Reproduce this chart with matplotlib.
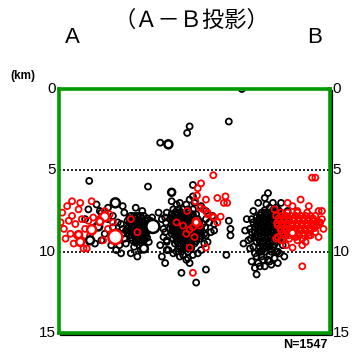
import matplotlib
matplotlib.use("Agg")
import matplotlib.pyplot as plt
import matplotlib.transforms as mtransforms

plt.rcParams['font.family'] = ['Liberation Sans', 'Noto Sans CJK JP', 'DejaVu Sans']

# hypocentres: horizontal distance along A-B (km), depth (km)
blk_x = [
    # cluster around x=2-4
    1.8, 2.3, 2.6, 3.0, 3.3, 2.8, 3.6, 2.2, 2.6, 1.6, 3.9, 4.0, 3.0, 3.3, 2.5, 3.6, 3.9, 3.2, 3.5, 3.8, 4.8, 4.4,
    # cluster around x=5
    4.4, 4.8, 5.2, 4.2, 4.5, 4.9, 5.3, 5.6, 4.3, 4.6, 5.0, 5.4, 4.1, 4.4, 4.8, 5.1, 5.5,
    4.3, 4.6, 5.0, 5.3, 4.5, 4.9, 5.2, 3.8, 3.9, 4.0, 4.7, 5.1, 5.7, 5.9, 4.1, 4.6, 5.0,
    5.5, 3.7, 6.1, 6.3, 6.4, 6.2, 1.85, 5.45,
    4.3, 4.65, 5.05, 5.4, 4.35, 4.7, 5.15, 5.5, 4.2, 4.5, 4.85, 5.2, 4.2, 4.6, 4.95, 5.35,
    4.4, 4.75, 5.1, 5.4, 4.7, 5.05,
    # cluster around x=8
    7.0, 7.6, 8.2, 6.9, 7.3, 7.7, 8.4, 6.8, 7.1, 7.5, 7.9, 8.5, 6.9, 7.2, 7.6, 8.0, 8.4, 8.8,
    6.8, 7.1, 7.5, 7.9, 8.3, 8.7, 6.9, 7.3, 7.7, 8.1, 8.5, 8.9, 7.0, 7.4, 7.8, 8.2, 8.6,
    7.1, 7.5, 7.9, 8.3, 7.3, 7.7, 8.1, 6.5, 6.4, 6.6, 6.6, 7.0, 7.6, 8.5, 9.1, 9.3, 9.2,
    9.0, 8.7, 7.4, 6.9, 8.0, 9.4, 9.5, 9.5, 6.3, 7.9, 10.4, 10.5, 10.5, 8.2, 7.2, 7.8, 8.6,
    7.15, 7.45, 7.95, 7.0, 7.35, 7.75, 8.2, 6.95, 7.35, 7.75, 8.15, 8.6, 7.0, 7.35, 7.8, 8.15, 8.55,
    6.95, 7.3, 7.7, 8.1, 8.5, 7.15, 7.55, 7.95, 8.35, 8.75, 7.2, 7.6, 8.0, 8.4, 7.35, 7.75, 8.1,
    6.6, 6.55, 6.5, 6.6, 6.7, 9.0, 8.95, 9.0, 8.9, 8.7, 7.2, 7.8, 8.3,
    # cluster around x=13
    12.9, 13.3, 12.4, 12.8, 13.2, 13.6, 12.1, 12.5, 12.9, 13.3, 13.7, 11.9, 12.3, 12.7, 13.1, 13.5, 13.9,
    12.0, 12.4, 12.8, 13.2, 13.6, 11.8, 12.2, 12.6, 13.0, 13.4, 13.8, 12.0, 12.4, 12.8, 13.2, 13.6,
    12.1, 12.5, 12.9, 13.3, 12.3, 12.7, 13.1, 11.5, 11.4, 11.6, 11.7, 12.0, 12.4, 12.8, 13.2, 13.5,
    12.2, 12.6, 13.0, 11.9, 12.2, 13.6, 14.0, 11.3, 12.0, 12.8, 12.6, 12.6, 13.0, 12.3, 13.4,
    12.6, 13.1, 13.45, 12.3, 12.65, 13.05, 13.45, 12.2, 12.6, 13.0, 13.4, 13.8, 12.1, 12.5, 12.9, 13.3, 13.7,
    12.2, 12.6, 13.0, 13.4, 13.7, 12.1, 12.5, 12.9, 13.3, 13.65, 12.25, 12.65, 13.05, 13.45,
    12.4, 12.8, 13.2, 12.5, 12.9,
    11.8, 11.7, 11.75, 11.9, 12.1, 12.5, 12.9, 13.3, 13.7, 13.9, 14.0, 13.95, 13.1, 12.7, 12.4,
    11.8, 12.3, 12.9, 13.4, 13.8,
    # isolated events
    11.2, 6.2, 7.85, 8.0, 10.4, 6.5, 7.5, 8.0, 9.0, 8.4, 10.25, 12.1, 8.2,
]
blk_d = [
    7.4, 7.1, 7.6, 8.0, 8.5, 8.9, 8.8, 9.5, 9.3, 8.0, 8.6, 9.2, 7.3, 7.8, 7.5, 8.2, 7.2, 9.6, 9.9, 10.1, 10.3, 10.1,
    7.8, 7.8, 7.8, 8.1, 8.1, 8.1, 8.1, 8.1, 8.4, 8.4, 8.4, 8.4, 8.7, 8.7, 8.7, 8.7, 8.7,
    9.0, 9.0, 9.0, 9.0, 9.3, 9.3, 9.3, 8.3, 8.9, 7.6, 7.3, 7.5, 7.9, 8.6, 9.5, 9.7, 9.9,
    9.4, 9.6, 7.6, 8.0, 9.1, 9.6, 5.65, 6.0,
    7.95, 7.95, 7.95, 7.95, 8.25, 8.25, 8.25, 8.25, 8.55, 8.55, 8.55, 8.55, 8.85, 8.85, 8.85, 8.85,
    9.15, 9.15, 9.15, 9.15, 9.45, 9.45,
    7.4, 7.4, 7.4, 7.7, 7.7, 7.7, 7.7, 8.0, 8.0, 8.0, 8.0, 8.0, 8.3, 8.3, 8.3, 8.3, 8.3, 8.3,
    8.6, 8.6, 8.6, 8.6, 8.6, 8.6, 8.9, 8.9, 8.9, 8.9, 8.9, 8.9, 9.2, 9.2, 9.2, 9.2, 9.2,
    9.5, 9.5, 9.5, 9.5, 9.8, 9.8, 9.8, 7.9, 8.6, 9.3, 9.9, 10.1, 10.2, 10.1, 9.4, 8.8, 8.2,
    7.5, 7.2, 7.0, 6.9, 6.8, 7.8, 8.3, 8.7, 10.3, 10.4, 8.1, 8.6, 9.0, 5.9, 8.0, 8.1, 8.8,
    7.55, 7.55, 7.55, 7.85, 7.85, 7.85, 7.85, 8.15, 8.15, 8.15, 8.15, 8.15, 8.45, 8.45, 8.45, 8.45, 8.45,
    8.75, 8.75, 8.75, 8.75, 8.75, 9.05, 9.05, 9.05, 9.05, 9.05, 9.35, 9.35, 9.35, 9.35, 9.65, 9.65, 9.65,
    7.6, 8.2, 8.8, 9.4, 9.9, 8.0, 8.5, 9.0, 9.5, 9.9, 7.1, 7.1, 7.0,
    7.3, 7.3, 7.6, 7.6, 7.6, 7.6, 7.9, 7.9, 7.9, 7.9, 7.9, 8.2, 8.2, 8.2, 8.2, 8.2, 8.2,
    8.5, 8.5, 8.5, 8.5, 8.5, 8.8, 8.8, 8.8, 8.8, 8.8, 8.8, 9.1, 9.1, 9.1, 9.1, 9.1,
    9.4, 9.4, 9.4, 9.4, 9.7, 9.7, 9.7, 8.0, 8.7, 9.3, 9.8, 10.1, 10.3, 10.5, 10.4, 10.1,
    10.7, 10.9, 10.8, 7.5, 7.0, 7.0, 7.5, 9.5, 11.0, 6.4, 6.7, 10.0, 10.0, 10.0, 10.0,
    7.45, 7.45, 7.45, 7.75, 7.75, 7.75, 7.75, 8.05, 8.05, 8.05, 8.05, 8.05, 8.35, 8.35, 8.35, 8.35, 8.35,
    8.65, 8.65, 8.65, 8.65, 8.65, 8.95, 8.95, 8.95, 8.95, 8.95, 9.25, 9.25, 9.25, 9.25,
    9.55, 9.55, 9.55, 9.85, 9.85,
    8.0, 8.6, 9.2, 9.7, 10.3, 10.5, 10.2, 10.0, 9.6, 9.0, 8.4, 7.9, 7.0, 7.1, 10.0,
    10.6, 10.9, 10.6, 10.7, 10.3,
    0.0, 3.3, 2.7, 2.3, 2.0, 10.7, 11.3, 10.7, 11.1, 11.9, 10.2, 11.4, 6.6,
]

# densest parts of the three black swarms
core_x = [
    4.6, 5.0, 4.35, 4.7, 5.1, 5.45, 4.45, 4.8, 5.2, 4.25, 4.6, 4.95, 5.3, 4.45, 4.8, 5.15, 4.7, 5.05,
    7.3, 7.9, 7.1, 7.5, 7.9, 8.2, 6.95, 7.3, 7.7, 8.1, 8.3, 7.05, 7.4, 7.8, 8.2, 8.6,
    6.95, 7.3, 7.7, 8.1, 8.5, 7.1, 7.5, 7.9, 8.3, 8.7, 7.2, 7.6, 8.0, 8.4, 7.3, 7.7, 8.1, 7.5, 7.9,
    7.2, 7.5, 7.9, 8.2, 7.4, 7.8,
    12.6, 13.0, 13.4, 12.3, 12.7, 13.1, 13.5, 12.1, 12.5, 12.9, 13.3, 13.7, 12.2, 12.6, 13.0, 13.4,
    12.0, 12.4, 12.8, 13.2, 13.6, 12.2, 12.6, 13.0, 13.4, 12.3, 12.7, 13.1, 12.5, 12.9,
]
core_d = [
    7.8, 7.8, 8.1, 8.1, 8.1, 8.1, 8.4, 8.4, 8.4, 8.7, 8.7, 8.7, 8.7, 9.0, 9.0, 9.0, 9.3, 9.3,
    7.4, 7.4, 7.7, 7.7, 7.7, 7.7, 8.0, 8.0, 8.0, 8.0, 8.0, 8.3, 8.3, 8.3, 8.3, 8.3,
    8.6, 8.6, 8.6, 8.6, 8.6, 8.9, 8.9, 8.9, 8.9, 8.9, 9.2, 9.2, 9.2, 9.2, 9.5, 9.5, 9.5, 9.8, 9.8,
    10.0, 10.0, 10.0, 10.2, 10.3, 10.5,
    7.6, 7.6, 7.6, 7.9, 7.9, 7.9, 7.9, 8.2, 8.2, 8.2, 8.2, 8.2, 8.5, 8.5, 8.5, 8.5,
    8.8, 8.8, 8.8, 8.8, 8.8, 9.1, 9.1, 9.1, 9.1, 9.4, 9.4, 9.4, 9.7, 9.7,
]

red_x = [
    # west group
    0.2, 0.5, 0.6, 0.3, 0.8, 1.0, 1.2, 1.4, 0.7, 1.1, 0.9, 1.4, 1.6, 1.8, 2.1, 2.3, 1.9,
    2.5, 2.8, 3.1, 3.3, 3.0, 0.4, 1.7, 1.3, 2.0, 0.8, 2.6, 1.5, 0.1, 2.7,
    # middle
    4.4, 4.8, 7.2, 8.0, 8.2, 8.5, 8.4, 8.6, 9.1, 9.45, 9.7, 8.0, 9.0, 7.85, 8.35, 8.45, 8.65,
    8.2, 9.45, 8.7, 8.5, 9.0, 9.7, 10.2, 10.1, 10.3, 9.9, 9.45, 9.1, 8.85, 8.3, 7.6, 7.8,
    # east group
    14.8, 14.3, 15.9, 16.1, 14.9, 15.5, 15.7, 14.3, 13.9, 13.4, 15.1, 14.6, 15.7, 16.0, 16.1,
    13.3, 13.6, 13.9, 14.2, 14.5, 14.8, 15.1, 15.4, 15.7,
    13.5, 13.8, 14.1, 14.4, 14.7, 15.0, 15.3, 15.6,
    13.4, 13.7, 14.0, 14.3, 14.6, 14.9, 15.2, 15.5, 15.8,
    13.6, 13.9, 14.2, 14.5, 14.8, 15.1, 15.4,
    13.8, 14.1, 14.4, 14.7, 15.0, 15.3, 13.2, 14.0, 14.6, 15.3, 16.2, 15.9, 13.6, 14.9,
    13.45, 13.75, 14.05, 14.35, 14.65, 14.95, 15.25, 15.55,
    13.35, 13.65, 13.95, 14.25, 14.55, 14.85, 15.15, 15.45, 15.75,
    13.55, 13.85, 14.15, 14.45, 14.75, 15.05, 15.35, 15.65,
    13.7, 14.0, 14.35, 14.65, 14.95, 15.25,
    13.3, 13.7, 14.1, 14.5, 14.9, 15.4, 15.6, 15.9, 15.2, 14.6, 14.0, 13.6,
]
red_d = [
    7.6, 7.2, 8.1, 8.6, 7.8, 8.3, 7.4, 8.0, 8.9, 9.0, 9.5, 9.3, 8.6, 8.1, 7.9, 8.4, 9.0,
    8.0, 7.5, 7.7, 8.2, 8.6, 9.2, 9.8, 7.0, 6.9, 6.9, 7.9, 9.8, 8.2, 9.3,
    8.0, 8.8, 8.2, 8.65, 8.5, 8.25, 8.1, 8.4, 7.7, 7.9, 8.2, 9.75, 9.75, 7.5, 6.9, 6.55, 7.3,
    11.3, 5.3, 5.8, 6.1, 6.8, 6.7, 6.6, 7.0, 7.0, 7.85, 7.85, 7.6, 7.4, 9.1, 8.4, 8.9,
    6.8, 7.2, 7.5, 7.5, 10.9, 5.45, 5.45, 9.75, 9.6, 9.1, 9.4, 9.3, 8.8, 8.2, 8.0,
    7.8, 7.8, 7.8, 7.8, 7.8, 7.8, 7.8, 7.8, 7.8,
    8.1, 8.1, 8.1, 8.1, 8.1, 8.1, 8.1, 8.1,
    8.4, 8.4, 8.4, 8.4, 8.4, 8.4, 8.4, 8.4, 8.4,
    8.7, 8.7, 8.7, 8.7, 8.7, 8.7, 8.7,
    9.0, 9.0, 9.0, 9.0, 9.0, 9.0, 7.4, 7.0, 7.6, 7.2, 8.6, 9.1, 9.3, 9.6,
    7.95, 7.95, 7.95, 7.95, 7.95, 7.95, 7.95, 7.95,
    8.25, 8.25, 8.25, 8.25, 8.25, 8.25, 8.25, 8.25, 8.25,
    8.55, 8.55, 8.55, 8.55, 8.55, 8.55, 8.55, 8.55,
    8.85, 8.85, 8.85, 8.85, 8.85, 8.85,
    9.2, 9.3, 9.2, 9.1, 9.2, 9.0, 8.4, 8.2, 7.6, 7.5, 7.6, 7.6,
]

# larger events (diameter in pixels)
big_x = [3.45, 2.4, 1.9, 5.75, 5.2, 6.9, 6.7, 3.45, 2.0, 1.3, 2.8, 1.2, 2.5, 14.3, 8.4]
big_d = [7.0, 8.45, 9.3, 8.45, 9.8, 6.35, 3.4, 9.1, 8.65, 9.4, 7.85, 8.95, 8.15, 8.85, 8.2]
big_px = [9, 8, 8, 13, 8, 7, 8, 14, 9, 8, 9, 7, 7, 7, 7]
big_col = ['k', 'k', 'k', 'k', 'k', 'k', 'k', 'r', 'r', 'r', 'r', 'r', 'r', 'r', 'r']

depth_ticks = [0, 5, 10, 15]
n_events = 1547

fig = plt.figure(figsize=(3.52, 3.54), dpi=100)
ax = fig.add_axes([0.1676, 0.0593, 0.770, 0.6893])
x_max = 16.6
ax.set_xlim(0, x_max)
ax.set_ylim(15, 0)

small_s = (6 * 0.72) ** 2
ax.scatter(blk_x + core_x, blk_d + core_d, s=small_s, facecolors='none', edgecolors='black',
           linewidths=1.3, zorder=3)
ax.scatter(red_x, red_d, s=small_s, facecolors='none', edgecolors='red', linewidths=1.3, zorder=4)
ax.scatter(big_x, big_d, s=[(p * 0.72) ** 2 for p in big_px], facecolors='white',
           edgecolors=['black' if c == 'k' else 'red' for c in big_col], linewidths=1.8, zorder=5)

for d in (5, 10):
    ax.axhline(d, color='black', linestyle=(0, (1.2, 1.2)), linewidth=1.2, zorder=2)

ax.set_xticks([])
ax.set_yticks([])
for sp in ax.spines.values():
    sp.set_color('#009a00')
    sp.set_linewidth(2.6)
    sp.set_zorder(6)

# dark shadow under the frame (bottom and right)
shadow = mtransforms.offset_copy(ax.transAxes, fig=fig, x=1.6, y=-1.6, units='points')
ax.plot([0, 1, 1], [0, 0, 1], color='black', linewidth=1.6, transform=shadow, clip_on=False, zorder=1)

for d in depth_ticks:
    yf = ax.transData.transform((0, d))
    yf = fig.transFigure.inverted().transform(yf)[1]
    fig.text(0.158, yf, str(d), ha='right', va='center', fontsize=11)
    fig.text(0.945, yf, str(d), ha='left', va='center', fontsize=11)

fig.text(0.03, 0.785, '(km)', ha='left', va='center', fontsize=8.5, fontweight='bold')
fig.text(0.205, 0.895, 'A', ha='center', va='center', fontsize=16)
fig.text(0.895, 0.895, 'B', ha='center', va='center', fontsize=16)
fig.text(0.545, 0.942, '（Ａ－Ｂ投影）', ha='center', va='center', fontsize=16,
         family=['Noto Sans CJK JP', 'DejaVu Sans'])
fig.text(0.93, 0.025, 'N={}'.format(n_events), ha='right', va='center', fontsize=9, fontweight='bold')

fig.savefig('out.png', dpi=100)
